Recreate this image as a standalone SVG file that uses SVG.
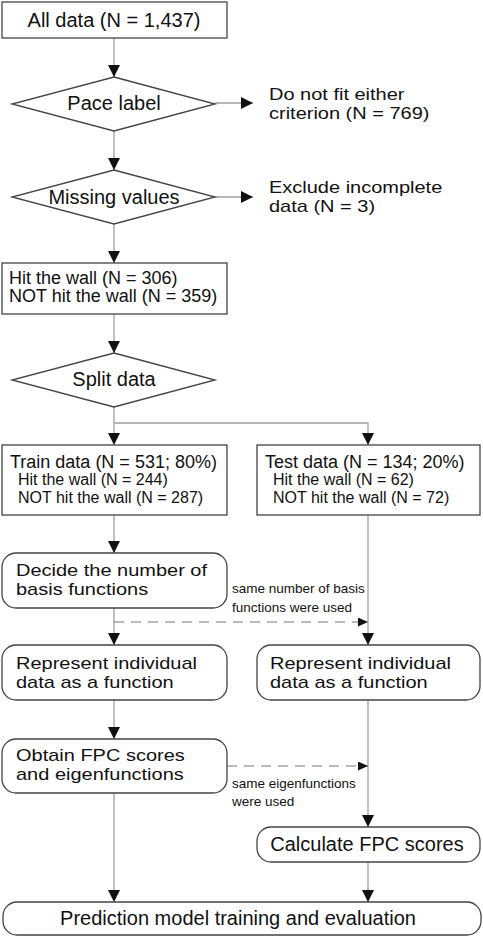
<svg xmlns="http://www.w3.org/2000/svg" width="483" height="937" viewBox="0 0 483 937">
<style>
.box{fill:#fff;stroke:#444;stroke-width:1.3}
.c{fill:none;stroke:#a0a0a0;stroke-width:1.3}
.d{fill:none;stroke:#777;stroke-width:1.2;stroke-dasharray:10 7}
text{font-family:"Liberation Sans",Arial,sans-serif;fill:#111}
.t20{font-size:20px}
.tq{font-size:16.8px}
.t18{font-size:18px}
.t16{font-size:16px}
.t13{font-size:13.5px}
.m{text-anchor:middle}
</style>
<defs>
<marker id="ah" markerUnits="userSpaceOnUse" markerWidth="12" markerHeight="12" refX="12" refY="6" orient="auto"><path d="M0,0 L12,6 L0,12 Z" fill="#111"/></marker>
<marker id="ahs" markerUnits="userSpaceOnUse" markerWidth="10" markerHeight="10" refX="10" refY="4.5" orient="auto"><path d="M0,0 L10,4.5 L0,9 Z" fill="#111"/></marker>
</defs>
<g id="connectors">
<line class="c" x1="114" y1="38" x2="114" y2="77" marker-end="url(#ah)"/>
<line class="c" x1="215" y1="103" x2="253" y2="103" marker-end="url(#ah)"/>
<line class="c" x1="114" y1="131" x2="114" y2="170" marker-end="url(#ah)"/>
<line class="c" x1="215" y1="197" x2="253" y2="197" marker-end="url(#ah)"/>
<line class="c" x1="114" y1="224" x2="114" y2="263" marker-end="url(#ah)"/>
<line class="c" x1="114" y1="314" x2="114" y2="353" marker-end="url(#ah)"/>
<line class="c" x1="114" y1="407" x2="114" y2="445" marker-end="url(#ah)"/>
<polyline class="c" points="114,423 368,423 368,445" marker-end="url(#ah)"/>
<line class="c" x1="114" y1="515" x2="114" y2="553" marker-end="url(#ah)"/>
<line class="c" x1="368" y1="515" x2="368" y2="645" marker-end="url(#ah)"/>
<line class="c" x1="114" y1="608" x2="114" y2="645" marker-end="url(#ah)"/>
<line class="d" x1="114" y1="622" x2="368" y2="622" marker-end="url(#ahs)"/>
<line class="c" x1="114" y1="700" x2="114" y2="739" marker-end="url(#ah)"/>
<line class="c" x1="368" y1="700" x2="368" y2="827" marker-end="url(#ah)"/>
<line class="d" x1="227" y1="766" x2="368" y2="766" marker-end="url(#ahs)"/>
<line class="c" x1="114" y1="793" x2="114" y2="902" marker-end="url(#ah)"/>
<line class="c" x1="368" y1="862" x2="368" y2="902" marker-end="url(#ah)"/>
</g>
<g id="all-data">
<rect class="box" x="2" y="2" width="225" height="36"/>
<text class="t20 m" x="114" y="27">All data (N = 1,437)</text>
</g>
<g id="pace-label">
<polygon class="box" points="114,77 215,104 114,131 12,104"/>
<text class="t20 m" x="114" y="110">Pace label</text>
</g>
<g id="not-fit" transform="translate(269,100) scale(1.19,1)">
<text class="tq" x="0" y="0">Do not fit either</text>
<text class="tq" x="0" y="19">criterion (N = 769)</text>
</g>
<g id="missing-values">
<polygon class="box" points="114,170 215,197 114,224 12,197"/>
<text class="t20 m" x="114" y="204">Missing values</text>
</g>
<g id="exclude" transform="translate(269,193) scale(1.19,1)">
<text class="tq" x="0" y="0">Exclude incomplete</text>
<text class="tq" x="0" y="19">data (N = 3)</text>
</g>
<g id="hit-wall">
<rect class="box" x="2" y="263" width="225" height="51"/>
<text class="t18" x="9" y="284">Hit the wall (N = 306)</text>
<text class="t18" x="9" y="302">NOT hit the wall (N = 359)</text>
</g>
<g id="split-data">
<polygon class="box" points="114,353 215,380 114,407 12,380"/>
<text class="t20 m" x="114" y="386">Split data</text>
</g>
<g id="train-data">
<rect class="box" x="2" y="445" width="225" height="70"/>
<text class="t18" x="10" y="468">Train data (N = 531; 80%)</text>
<text class="t16" x="18" y="485">Hit the wall (N = 244)</text>
<text class="t16" x="18" y="503">NOT hit the wall (N = 287)</text>
</g>
<g id="test-data">
<rect class="box" x="257" y="445" width="223" height="70"/>
<text class="t18" x="265" y="468">Test data (N = 134; 20%)</text>
<text class="t16" x="273" y="485">Hit the wall (N = 62)</text>
<text class="t16" x="273" y="503">NOT hit the wall (N = 72)</text>
</g>
<g id="decide-basis">
<rect class="box" x="2" y="553" width="225" height="55" rx="14"/>
<g transform="translate(16,576) scale(1.19,1)">
<text class="tq" x="0" y="0">Decide the number of</text>
<text class="tq" x="0" y="19">basis functions</text>
</g>
</g>
<g id="label-basis">
<text class="t13" x="232" y="593">same number of basis</text>
<text class="t13" x="232" y="612">functions were used</text>
</g>
<g id="represent-train">
<rect class="box" x="2" y="645" width="225" height="55" rx="14"/>
<g transform="translate(16,669) scale(1.19,1)">
<text class="tq" x="0" y="0">Represent individual</text>
<text class="tq" x="0" y="19">data as a function</text>
</g>
</g>
<g id="represent-test">
<rect class="box" x="257" y="645" width="223" height="55" rx="14"/>
<g transform="translate(270,669) scale(1.19,1)">
<text class="tq" x="0" y="0">Represent individual</text>
<text class="tq" x="0" y="19">data as a function</text>
</g>
</g>
<g id="obtain-fpc">
<rect class="box" x="2" y="739" width="225" height="54" rx="14"/>
<g transform="translate(16,761) scale(1.19,1)">
<text class="tq" x="0" y="0">Obtain FPC scores</text>
<text class="tq" x="0" y="19">and eigenfunctions</text>
</g>
</g>
<g id="label-eigen">
<text class="t13" x="232" y="788">same eigenfunctions</text>
<text class="t13" x="232" y="806">were used</text>
</g>
<g id="calculate-fpc">
<rect class="box" x="257" y="827" width="223" height="35" rx="14"/>
<text class="t20 m" x="367" y="851">Calculate FPC scores</text>
</g>
<g id="prediction">
<rect class="box" x="3" y="902" width="478" height="33" rx="14"/>
<text class="t20 m" x="238" y="925">Prediction model training and evaluation</text>
</g>
</svg>
